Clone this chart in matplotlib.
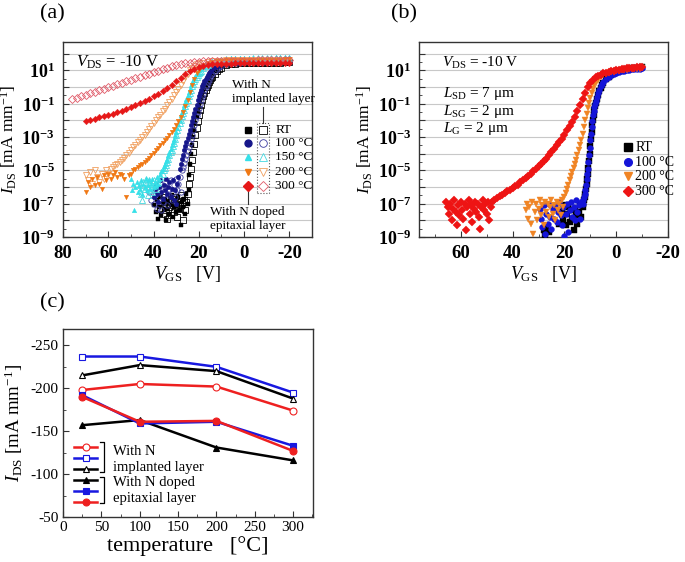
#...............................................................
#  transfer curves (a, b) and on-current vs temperature (c)
#...............................................................
import numpy as np
import matplotlib
matplotlib.use("Agg")
import matplotlib.pyplot as plt
from matplotlib.patches import Rectangle

plt.rcParams['font.family'] = 'serif'
plt.rcParams['font.serif'] = ['Liberation Serif', 'DejaVu Serif']
plt.rcParams['mathtext.fontset'] = 'custom'
plt.rcParams['mathtext.rm'] = 'Liberation Serif'
plt.rcParams['mathtext.it'] = 'Liberation Serif:italic'
plt.rcParams['mathtext.bf'] = 'Liberation Serif:bold'
plt.rcParams['axes.unicode_minus'] = False

#...............................................................
# (a) data: V_GS [V] and log10(I_DS); saturation tail shares TAIL_V
TAIL_V = [8, 6, 4, 2, 0, -2, -4, -6, -8, -10, -12, -14, -16, -18, -20]

rt_fill_v = [40, 39, 38.5, 38, 37.5, 37, 36.5, 36, 35.5, 35, 34.5, 34, 33.5, 33, 32.5, 32,
             31.5, 31, 30.5, 30, 29.5, 29, 28.5, 28, 27.5, 27, 26.5, 26, 25.5, 25, 24.5,
             24.5, 24, 23.5, 23, 22.5, 22, 21.5, 21, 20.5, 20, 19.5, 19, 18.5, 18, 17.5, 17,
             16.5, 16, 15.5, 15, 14.5, 14, 13, 12, 11, 10]
rt_fill_log = [-7.1, -7.5, -6.8, -7.9, -7.2, -6.6, -7.7, -7.0, -7.4, -6.7, -8.0, -7.3, -6.9, -7.6,
               -7.1, -6.5, -7.8, -7.2, -6.8, -7.5, -7.0, -6.6, -7.4, -8.3, -6.9, -7.2, -6.7, -7.6,
               -6.4, -7.0, -6.2,
               -5.3, -4.6, -4.0, -3.5, -3.0, -2.55, -2.15, -1.8, -1.45, -1.15, -0.9, -0.65, -0.45,
               -0.25, -0.05, 0.12, 0.28, 0.42, 0.55, 0.66, 0.76, 0.85, 0.99, 1.1, 1.18, 1.24]
rt_fill_tail = [1.33, 1.38, 1.40, 1.41, 1.42, 1.43, 1.43, 1.44, 1.44, 1.45, 1.45, 1.45, 1.46, 1.46, 1.46]

rt_open_v = [37, 36.5, 36, 35.5, 35, 34.5, 34, 33.5, 33, 32.5, 32, 31.5, 31, 30.5, 30, 29.5, 29,
             28.5, 28, 27.5, 27, 26.5, 26, 25.5, 25,
             24.5, 24, 23.5, 23, 22.5, 22, 21.5, 21, 20.5, 20, 19.5, 19, 18.5, 18, 17.5, 17,
             16.5, 16, 15.5, 15, 14.5, 14, 13, 12, 11, 10]
rt_open_log = [-7.3, -6.8, -7.6, -7.0, -6.6, -7.4, -7.9, -6.9, -7.2, -7.7, -6.7, -7.1, -7.5, -6.6,
               -7.0, -7.8, -6.9, -7.3, -6.5, -7.0, -8.0, -6.8, -7.4, -6.9, -6.4,
               -5.8, -5.4, -4.9, -4.4, -3.9, -3.4, -2.9, -2.45, -2.05, -1.7, -1.35, -1.05, -0.8,
               -0.55, -0.35, -0.15, 0.0, 0.15, 0.3, 0.42, 0.53, 0.63, 0.8, 0.95, 1.06, 1.15]
rt_open_tail = [1.3, 1.37, 1.4, 1.42, 1.43, 1.44, 1.45, 1.45, 1.46, 1.46, 1.47, 1.47, 1.47, 1.48, 1.48]

c100_fill_v = [40, 39.5, 39, 38.5, 38, 37.5, 37, 36.5, 36, 35.5, 35, 34.5, 34, 33.5, 33, 32.5, 32,
               31.5, 31, 30.5, 30, 29.5, 29,
               28.5, 28, 27.5, 27, 26.5, 26, 25.5, 25, 24.5, 24, 23.5, 23, 22.5, 22, 21.5, 21,
               20.5, 20, 19.5, 19, 18.5, 18, 17.5, 17, 16.5, 16, 15.5, 15, 14.5, 14, 13, 12, 11, 10]
c100_fill_log = [-6.6, -6.1, -5.8, -6.4, -6.9, -6.0, -5.6, -6.3, -6.7, -5.9, -6.2, -5.5, -6.4, -6.0,
                 -5.7, -6.6, -6.1, -5.6, -6.8, -6.2, -7.0, -5.8, -5.4,
                 -4.9, -4.6, -4.3, -4.05, -3.8, -3.55, -3.3, -3.05, -2.8, -2.55, -2.3, -2.05, -1.8,
                 -1.55, -1.3, -1.05, -0.8, -0.55, -0.35, -0.15, 0.05, 0.2, 0.35, 0.5, 0.62, 0.74,
                 0.84, 0.93, 1.0, 1.07, 1.18, 1.26, 1.32, 1.37]
c100_fill_tail = [1.44, 1.48, 1.5, 1.51, 1.52, 1.53, 1.53, 1.54, 1.54, 1.55, 1.55, 1.55, 1.56, 1.56, 1.56]

c100_open_v = [42, 41, 40, 39.5, 39, 38.5, 38, 37.5, 37, 36.5, 36, 35.5, 35, 34.5, 34, 33.5, 33,
               32.5, 32, 31.5, 31, 30.5, 30, 29.5, 29, 28.5, 28,
               27.5, 27, 26.5, 26, 25.5, 25, 24.5, 24, 23.5, 23, 22.5, 22, 21.5, 21, 20.5, 20,
               19.5, 19, 18.5, 18, 17.5, 17, 16.5, 16, 15.5, 15, 14.5, 14, 13, 12, 11, 10]
c100_open_log = [-6.3, -6.8, -7.0, -6.5, -6.0, -7.3, -6.6, -6.2, -5.8, -7.4, -6.9, -6.4, -6.0, -5.7,
                 -7.1, -6.5, -6.1, -5.6, -6.8, -6.3, -5.9, -6.6, -5.5, -6.2, -5.8, -5.4, -6.3,
                 -5.0, -4.8, -4.55, -4.3, -4.1, -3.85, -3.6, -3.35, -3.1, -2.85, -2.6, -2.3, -2.0,
                 -1.75, -1.5, -1.25, -1.0, -0.8, -0.6, -0.4, -0.2, 0.0, 0.15, 0.3, 0.45, 0.58, 0.7,
                 0.8, 0.98, 1.1, 1.2, 1.28]
c100_open_tail = [1.38, 1.43, 1.46, 1.47, 1.48, 1.49, 1.49, 1.5, 1.5, 1.51, 1.51, 1.51, 1.52, 1.52, 1.52]

c150_fill_v = [50, 49.5, 49, 48.5, 48, 47.5, 47, 46.5, 46, 45.5, 45, 44.5, 44, 43.5, 43, 42.5, 42,
               41.5, 41, 40.5, 40, 39.5, 39, 38.5, 38, 37.5,
               37, 36.5, 36, 35.5, 35, 34.5, 34, 33.5, 33, 32.5, 32, 31.5, 31, 30.5, 30, 29.5, 29,
               28.5, 28, 27.5, 27, 26.5, 26, 25.5, 25, 24.5, 24, 23.5, 23, 22.5, 22, 21.5, 21,
               20.5, 20, 19, 18, 17, 16, 15, 14, 12, 10]
c150_fill_log = [-5.5, -6.2, -5.8, -7.4, -6.0, -5.7, -6.3, -5.9, -6.1, -5.6, -6.4, -5.8, -6.0, -5.5,
                 -6.2, -5.9, -5.6, -6.1, -5.8, -5.5, -6.0, -5.7, -5.9, -5.4, -5.8, -5.5,
                 -5.2, -5.05, -4.9, -4.75, -4.6, -4.45, -4.3, -4.1, -3.9, -3.7, -3.5, -3.3, -3.1,
                 -2.9, -2.7, -2.45, -2.2, -1.95, -1.7, -1.5, -1.3, -1.1, -0.9, -0.7, -0.5, -0.3,
                 -0.1, 0.1, 0.25, 0.4, 0.55, 0.68, 0.8, 0.9, 1.0, 1.15, 1.27, 1.37, 1.45, 1.52,
                 1.57, 1.63, 1.67]
c150_fill_tail = [1.7, 1.72, 1.73, 1.74, 1.75, 1.75, 1.76, 1.76, 1.77, 1.77, 1.77, 1.78, 1.78, 1.78, 1.78]

c150_open_v = [46, 45.5, 45, 44.5, 44, 43.5, 43, 42.5, 42, 41.5, 41, 40.5, 40, 39.5, 39, 38.5, 38, 37,
               36, 35.5, 35, 34.5, 34, 33.5, 33, 32.5, 32, 31.5, 31, 30.5, 30, 29.5, 29, 28.5, 28,
               27.5, 27, 26.5, 26, 25.5, 25, 24.5, 24, 23.5, 23, 22.5, 22, 21.5, 21, 20.5, 20,
               19.5, 19, 18, 17, 16, 15, 14, 12, 10]
c150_open_log = [-5.9, -6.4, -6.8, -5.7, -6.1, -5.5, -6.0, -6.5, -5.6, -6.2, -5.8, -6.3, -5.6, -5.9,
                 -6.1, -5.5, -5.7, -5.4,
                 -5.2, -5.0, -4.85, -4.65, -4.5, -4.3, -4.1, -3.9, -3.75, -3.55, -3.35, -3.1, -2.85,
                 -2.6, -2.4, -2.15, -1.95, -1.75, -1.55, -1.35, -1.15, -0.95, -0.75, -0.55, -0.35,
                 -0.15, 0.05, 0.2, 0.35, 0.5, 0.62, 0.72, 0.82, 0.9, 0.98, 1.12, 1.25, 1.35, 1.43,
                 1.5, 1.58, 1.63]
c150_open_tail = [1.66, 1.68, 1.69, 1.7, 1.71, 1.71, 1.72, 1.72, 1.73, 1.73, 1.73, 1.74, 1.74, 1.74, 1.74]

c200_fill_v = [70, 69, 68, 67, 66, 65, 64, 63, 62, 61, 60, 59, 58, 57, 56, 55, 54, 53, 52, 51, 50,
               49, 48, 47, 46, 45, 44, 43, 42, 41, 40, 39, 38, 37, 36, 35, 34, 33, 32, 31, 30,
               29, 28, 27, 26, 25, 24, 23, 22, 21, 20, 19, 18, 16, 14, 12, 10]
c200_fill_log = [-6.3, -5.7, -6.0, -5.5, -5.9, -5.4, -5.8, -6.1, -5.3, -5.6, -5.2, -5.5, -5.3, -5.1,
                 -5.4, -5.2, -5.3, -5.5, -6.6, -5.3, -5.2,
                 -5.0, -4.9, -4.8, -4.7, -4.6, -4.5, -4.35, -4.25, -4.1, -3.95, -3.8, -3.65, -3.5,
                 -3.35, -3.2, -3.05, -2.9, -2.7, -2.5, -2.3, -2.05, -1.8, -1.5, -1.15, -0.75, -0.3,
                 0.1, 0.5, 0.85, 1.05, 1.2, 1.3, 1.42, 1.5, 1.55, 1.58]
c200_fill_tail = [1.6, 1.61, 1.62, 1.62, 1.63, 1.63, 1.64, 1.64, 1.64, 1.65, 1.65, 1.65, 1.65, 1.66, 1.66]

c200_open_v = [70, 69, 68, 67, 66, 65, 64, 63, 62, 61, 60, 59,
               58, 57, 56, 55, 54, 53, 52, 51, 50, 49, 48, 47, 46, 45, 44, 43, 42, 41, 40, 39,
               38, 37, 36, 35, 34, 33, 32, 31, 30, 29, 28, 27, 26, 25, 24, 23, 22, 21, 20,
               18, 16, 14, 12, 10]
c200_open_log = [-5.3, -5.6, -5.1, -5.8, -5.0, -5.4, -5.7, -5.2, -5.5, -5.0, -5.2, -4.9,
                 -4.8, -4.7, -4.6, -4.5, -4.4, -4.25, -4.1, -3.95, -3.8, -3.6, -3.45, -3.3, -3.15,
                 -3.0, -2.85, -2.7, -2.5, -2.35, -2.15, -2.0, -1.8, -1.65, -1.45, -1.3, -1.1, -0.9,
                 -0.7, -0.5, -0.3, -0.1, 0.1, 0.35, 0.6, 0.8, 1.0, 1.15, 1.28, 1.36, 1.42,
                 1.47, 1.52, 1.55, 1.57, 1.59]
c200_open_tail = [1.6, 1.61, 1.61, 1.62, 1.62, 1.62, 1.63, 1.63, 1.63, 1.63, 1.64, 1.64, 1.64, 1.64, 1.64]

c300_fill_v = [70, 68, 66, 64, 62, 60, 58, 56, 54, 52, 50, 48, 46, 44, 42, 40, 38, 36, 34, 32,
               30, 28, 26, 24, 22, 20, 18, 16, 14, 12, 10]
c300_fill_log = [-2.03, -1.96, -1.89, -1.82, -1.75, -1.67, -1.59, -1.50, -1.41, -1.31, -1.21, -1.10,
                 -0.98, -0.85, -0.71, -0.56, -0.40, -0.23, -0.05, 0.14, 0.34, 0.55, 0.76, 0.95,
                 1.10, 1.21, 1.29, 1.34, 1.37, 1.39, 1.40]
c300_fill_tail = [1.41, 1.41, 1.42, 1.42, 1.42, 1.43, 1.43, 1.43, 1.43, 1.44, 1.44, 1.44, 1.44, 1.44, 1.45]

c300_open_v = [76, 74, 72, 70, 68, 66, 64, 62, 60, 58, 56, 54, 52, 50, 48, 46, 44, 42, 40, 38,
               36, 34, 32, 30, 28, 26, 24, 22, 20, 18, 16, 14, 12, 10]
c300_open_log = [-0.74, -0.65, -0.55, -0.46, -0.37, -0.28, -0.18, -0.09, 0.0, 0.09, 0.18, 0.27,
                 0.36, 0.45, 0.54, 0.63, 0.72, 0.81, 0.9, 0.99, 1.08, 1.16, 1.24, 1.31, 1.37,
                 1.42, 1.46, 1.49, 1.52, 1.54, 1.55, 1.56, 1.57, 1.57]
c300_open_tail = [1.58, 1.58, 1.58, 1.59, 1.59, 1.59, 1.59, 1.6, 1.6, 1.6, 1.6, 1.6, 1.61, 1.61, 1.61]

a_labels = ['RT', '100 °C', '150 °C', '200 °C', '300 °C']

#...............................................................
# (b) data
b_rt_v = [28, 27.5, 27, 26, 22, 21, 20.5, 20, 19.5, 19, 18.5, 18, 17.5, 17, 16.5, 16, 15.5, 15,
          14.5, 14, 13.5,
          13, 12.75, 12.5, 12.25, 12, 11.75, 11.5, 11.25, 11, 10.75, 10.5, 10.25, 10, 9.75, 9.5,
          9.25, 9, 8.75, 8.5, 8.25, 8, 7.5, 7, 6.5, 6, 5.5, 5, 4, 3, 2, 1, 0, -1, -2, -3, -4,
          -5, -6, -7, -8, -9, -10]
b_rt_log = [-8.6, -8.9, -8.4, -8.7, -8.2, -7.4, -8.0, -7.1, -8.3, -7.6, -7.2, -8.1, -7.4, -7.9,
            -8.6, -7.3, -7.7, -8.2, -7.5, -7.0, -7.8,
            -7.2, -7.0, -6.8, -6.6, -6.4, -6.1, -5.8, -5.5, -5.2, -4.85, -4.45, -4.0, -3.55,
            -3.1, -2.7, -2.3, -1.95, -1.65, -1.4, -1.15, -0.95, -0.7, -0.45, -0.25, -0.05, 0.12,
            0.26, 0.47, 0.62, 0.74, 0.83, 0.9, 0.96, 1.0, 1.04, 1.07, 1.1, 1.12, 1.14, 1.16,
            1.17, 1.18]

b_100_v = [29.5, 29, 28.5, 28, 27.5, 27, 26.5, 26, 25.5, 25, 24.5, 24, 23.5, 23, 22.5, 22, 21.5,
           21, 20.5, 20, 19.5, 19, 18.5, 18, 17.5, 17, 16.5, 16, 15.5, 15, 14.5, 14, 13.5,
           13, 12.75, 12.5, 12.25, 12, 11.75, 11.5, 11.25, 11, 10.75, 10.5, 10.25, 10, 9.75, 9.5,
           9.25, 9, 8.75, 8.5, 8.25, 8, 7.5, 7, 6.5, 6, 5.5, 5, 4, 3, 2, 1, 0, -1, -2, -3, -4,
           -5, -6, -7, -8, -9, -10]
b_100_log = [-7.3, -7.9, -8.4, -7.1, -8.8, -7.6, -8.2, -7.0, -7.8, -8.5, -7.3, -7.9, -7.1, -8.1,
             -7.5, -6.9, -7.7, -8.3, -7.2, -8.95, -7.6, -7.0, -8.7, -7.4, -6.9, -7.8, -7.2, -8.0,
             -6.8, -7.5, -7.1, -7.9, -6.9,
             -7.0, -6.8, -6.6, -6.4, -6.2, -5.85, -5.5, -5.2, -4.9, -4.5, -4.1, -3.65, -3.2,
             -2.8, -2.4, -2.05, -1.7, -1.45, -1.2, -1.0, -0.85, -0.6, -0.35, -0.15, 0.05, 0.2,
             0.32, 0.5, 0.62, 0.72, 0.8, 0.87, 0.92, 0.96, 0.99, 1.02, 1.04, 1.06, 1.08, 1.1,
             1.11, 1.12]

b_200_v = [35, 34.5, 34, 33.5, 33, 32.5, 32, 31.5, 31, 30.5, 30, 29.5, 29, 28.5, 28, 27.5, 27,
           26.5, 26, 25.5, 25, 24.5, 24, 23.5, 23, 22.5, 22, 21.5, 21, 20.5,
           20, 19.5, 19, 18.5, 18, 17.5, 17, 16.5, 16, 15.5, 15, 14.5, 14, 13.5, 13, 12.5, 12,
           11.5, 11, 10.5, 10, 9.5, 9, 8.5, 8, 7, 6, 5, 4, 3, 2, 1, 0, -1, -2, -3, -4, -5, -6,
           -7, -8, -9, -10]
b_200_log = [-7.4, -7.0, -7.9, -7.2, -8.2, -6.9, -8.8, -7.5, -7.0, -8.0, -7.3, -6.8, -7.7, -7.1,
             -8.3, -6.9, -7.5, -7.0, -7.8, -7.2, -6.8, -7.6, -7.1, -8.0, -6.9, -7.4, -7.0, -7.7,
             -6.8, -7.2,
             -6.6, -6.35, -6.1, -5.85, -5.6, -5.35, -5.1, -4.85, -4.6, -4.35, -4.1, -3.8, -3.5,
             -3.15, -2.8, -2.4, -2.0, -1.6, -1.25, -0.95, -0.65, -0.35, -0.1, 0.1, 0.25, 0.45,
             0.6, 0.7, 0.78, 0.84, 0.89, 0.93, 0.96, 0.99, 1.01, 1.03, 1.05, 1.06, 1.08, 1.09,
             1.1, 1.11, 1.12]

b_300_v = [65.5, 65, 64.5, 64, 63.5, 63, 62.5, 62, 61.5, 61, 60.5, 60, 59.5, 59, 58.5, 58, 57.5,
           57, 56.5, 56, 55.5, 55, 54.5, 54, 53.5, 53, 52.5, 52, 51.5, 51, 50.5, 50, 49.5, 49,
           48.5, 48,
           47, 46, 45, 44, 43, 42, 41, 40, 39, 38, 37, 36, 35, 34, 33, 32, 31, 30, 29, 28, 27,
           26, 25, 24, 23, 22, 21, 20, 19, 18, 17, 16, 15, 14, 13, 12, 11, 10, 9, 8, 7, 6, 5,
           4, 3, 2, 1, 0, -1, -2, -3, -4, -5, -6, -7, -8, -9, -10]
b_300_log = [-6.9, -7.2, -7.6, -7.0, -8.0, -7.3, -6.8, -7.5, -8.3, -7.1, -7.7, -6.9, -7.4, -7.9,
             -7.0, -8.6, -7.2, -6.8, -7.6, -7.1, -8.1, -7.3, -6.9, -7.5, -7.0, -7.8, -8.5, -7.2,
             -6.8, -7.4, -7.0, -7.6, -6.9, -8.0, -7.2, -6.9,
             -6.75, -6.65, -6.55, -6.45, -6.35, -6.25, -6.15, -6.05, -5.95, -5.85, -5.7, -5.6,
             -5.45, -5.35, -5.2, -5.05, -4.9, -4.75, -4.6, -4.45, -4.3, -4.1, -3.9, -3.7, -3.5,
             -3.3, -3.1, -2.85, -2.6, -2.35, -2.1, -1.8, -1.45, -1.05, -0.7, -0.35, 0.0, 0.25,
             0.45, 0.58, 0.68, 0.75, 0.82, 0.87, 0.92, 0.96, 0.99, 1.02, 1.05, 1.08, 1.1, 1.12,
             1.14, 1.15, 1.17, 1.18, 1.19, 1.2]

b_labels = ['RT', '100 °C', '200 °C', '300 °C']

#...............................................................
# (c) data: I_DS [mA/mm] vs temperature
temps = [25, 100, 200, 300]
impl_red = [-198, -205, -202, -174]
impl_blue = [-237, -237, -225, -195]
impl_black = [-215, -227, -220, -188]
epi_black = [-157, -163, -131, -116]
epi_blue = [-192, -159, -161, -133]
epi_red = [-190, -161, -162, -127]

#...............................................................
fig = plt.figure(figsize=(6.85, 5.62), dpi=100)
ax_a = fig.add_axes([0.092, 0.578, 0.3635, 0.347])
ax_b = fig.add_axes([0.612, 0.578, 0.3635, 0.347])
ax_c = fig.add_axes([0.092, 0.080, 0.365, 0.3345])

ylab = r'$I_{\rm DS}$ [mA mm$^{-1}$]'
xlab = r'$V_{\rm GS}$   [V]'


def log_panel(ax, xlim, xt, xminor, ylabx):
    ax.set_yscale('log')
    ax.set_xlim(*xlim)
    ax.set_ylim(1e-9, 10 ** 2.7)
    yt = [10.0 ** k for k in range(-9, 3)]
    ylbl = [r'$\mathbf{10^{%d}}$' % k if k % 2 else '' for k in range(-9, 3)]
    ax.set_yticks(yt, ylbl, fontsize=13)
    ax.set_yticks([10.0 ** (k + 0.5) for k in range(-9, 2)], minor=True)
    ax.set_xticks(xt, [str(v) for v in xt], fontweight='bold', fontsize=13.5)
    ax.set_xticks(xminor, minor=True)
    ax.tick_params(which='both', direction='in', top=False, right=False, color='#333333')
    ax.tick_params(axis='y', which='major', length=4, pad=6)
    ax.tick_params(axis='y', which='minor', length=2)
    ax.tick_params(axis='x', which='major', length=4, pad=6)
    ax.tick_params(axis='x', which='minor', length=2)
    ax.grid(axis='y', which='major', color='#c8c8c8', lw=0.8)
    ax.set_axisbelow(True)
    for s in ax.spines.values():
        s.set_color('#333333')
        s.set_linewidth(1.0)
    ax.set_ylabel(ylab, fontsize=12.5)
    ax.yaxis.set_label_coords(ylabx, 0.5)
    ax.set_xlabel(xlab, fontsize=13)
    ax.xaxis.set_label_coords(0.5, -0.14)


def pts(v, lg, tail=None):
    v = list(v)
    lg = list(lg)
    if tail is not None:
        v = v + TAIL_V
        lg = lg + list(tail)
    return np.array(v), 10.0 ** np.array(lg)


#...............................................................
# panel (a)
log_panel(ax_a, (80, -30), [80, 60, 40, 20, 0, -20], [70, 50, 30, 10, -10], -0.175)

cols_a = ['#000000', '#16168a', '#35e0e8', '#f07814', '#e61818']
open_cols_a = ['#000000', '#3a3aa0', '#45d8e0', '#f0a060', '#e05a68']
mk_fill = ['s', 'o', '^', 'v', 'D']
mk_open = ['s', 'o', '^', 'v', 'D']
a_data = [
    ((rt_fill_v, rt_fill_log, rt_fill_tail), (rt_open_v, rt_open_log, rt_open_tail)),
    ((c100_fill_v, c100_fill_log, c100_fill_tail), (c100_open_v, c100_open_log, c100_open_tail)),
    ((c150_fill_v, c150_fill_log, c150_fill_tail), (c150_open_v, c150_open_log, c150_open_tail)),
    ((c200_fill_v, c200_fill_log, c200_fill_tail), (c200_open_v, c200_open_log, c200_open_tail)),
    ((c300_fill_v, c300_fill_log, c300_fill_tail), (c300_open_v, c300_open_log, c300_open_tail)),
]
for i, (fd, od) in enumerate(a_data):
    x, y = pts(*od)
    ax_a.plot(x, y, ls='none', marker=mk_open[i], ms=3.8, mfc='none',
              mec=open_cols_a[i], mew=0.6, zorder=3)
    x, y = pts(*fd)
    ax_a.plot(x, y, ls='none', marker=mk_fill[i], ms=3.3, mfc=cols_a[i],
              mec=cols_a[i], mew=0.3, zorder=3)

ax_a.text(0.052, 0.897, r'$V_{\rm DS}$ = -10 V', transform=ax_a.transAxes,
          fontsize=12, va='center', ha='left')

# legend (two marker columns)
rows_a = [0.549, 0.482, 0.413, 0.336, 0.262]
for i, lab in enumerate(a_labels):
    ax_a.plot([0.743], [rows_a[i]], transform=ax_a.transAxes, marker=mk_fill[i], ms=5,
              mfc=cols_a[i], mec=cols_a[i], ls='none', clip_on=False, zorder=5)
    ax_a.plot([0.803], [rows_a[i]], transform=ax_a.transAxes, marker=mk_open[i], ms=5.5,
              mfc='white', mec=open_cols_a[i], mew=0.6, ls='none', clip_on=False, zorder=5)
    ax_a.text(0.853, rows_a[i], lab, transform=ax_a.transAxes, fontsize=9.5,
              va='center', ha='left', zorder=5)
ax_a.add_patch(Rectangle((0.779, 0.225), 0.048, 0.362, transform=ax_a.transAxes,
                         fill=False, ls=':', lw=0.8, ec='#555555', zorder=5))
ax_a.plot([0.803, 0.803], [0.587, 0.668], transform=ax_a.transAxes, color='#333333', lw=0.8)
ax_a.plot([0.743, 0.743], [0.235, 0.169], transform=ax_a.transAxes, color='#333333', lw=0.8)
ax_a.text(0.677, 0.779, 'With N', transform=ax_a.transAxes, fontsize=9.5, va='center')
ax_a.text(0.677, 0.706, 'implanted layer', transform=ax_a.transAxes, fontsize=9.5, va='center')
ax_a.text(0.590, 0.130, 'With N doped', transform=ax_a.transAxes, fontsize=9.5, va='center')
ax_a.text(0.590, 0.058, 'epitaxial layer', transform=ax_a.transAxes, fontsize=9.5, va='center')

#...............................................................
# panel (b)
log_panel(ax_b, (76, -20), [60, 40, 20, 0, -20], [70, 50, 30, 10, -10], -0.178)

cols_b = ['#000000', '#1414d8', '#f08424', '#ee1414']
mk_b = ['s', 'o', 'v', 'D']
b_data = [(b_rt_v, b_rt_log), (b_100_v, b_100_log), (b_200_v, b_200_log), (b_300_v, b_300_log)]
for i, (v, lg) in enumerate(b_data):
    x, y = pts(v, lg)
    ax_b.plot(x, y, ls='none', marker=mk_b[i], ms=4.2, mfc=cols_b[i], mec=cols_b[i],
              mew=0.3, zorder=3)

ax_b.text(0.092, 0.892, r'$V_{\rm DS}$ = -10 V', transform=ax_b.transAxes, fontsize=11,
          va='center')
ax_b.text(0.096, 0.738, r'$L_{\rm SD}$ = 7 μm', transform=ax_b.transAxes, fontsize=11,
          va='center')
ax_b.text(0.096, 0.646, r'$L_{\rm SG}$ = 2 μm', transform=ax_b.transAxes, fontsize=11,
          va='center')
ax_b.text(0.096, 0.559, r'$L_{\rm G}$ = 2 μm', transform=ax_b.transAxes, fontsize=11,
          va='center')

rows_b = [0.462, 0.385, 0.313, 0.236]
for i, lab in enumerate(b_labels):
    ax_b.plot([0.839], [rows_b[i]], transform=ax_b.transAxes, marker=mk_b[i], ms=5.5,
              mfc=cols_b[i], mec=cols_b[i], ls='none', clip_on=False, zorder=5)
    ax_b.text(0.868, rows_b[i], lab, transform=ax_b.transAxes, fontsize=10,
              va='center', ha='left', zorder=5)

#...............................................................
# panel (c)
c_series = [
    (impl_red, '#ee2020', 'o', False),
    (impl_blue, '#1818e0', 's', False),
    (impl_black, '#000000', '^', False),
    (epi_black, '#000000', '^', True),
    (epi_blue, '#1818e0', 's', True),
    (epi_red, '#ee2020', 'o', True),
]
for vals, col, mk, filled in c_series:
    ax_c.plot(temps, vals, color=col, lw=1.8, marker=mk, ms=5,
              mfc=col if filled else 'white', mec=col, mew=0.8, zorder=3)

ax_c.set_xlim(0, 326)
ax_c.set_ylim(-50, -269)
ax_c.set_xticks([0, 50, 100, 150, 200, 250, 300])
ax_c.set_xticks([25, 75, 125, 175, 225, 275, 325], minor=True)
ax_c.set_yticks([-50, -100, -150, -200, -250])
ax_c.set_yticks([-75, -125, -175, -225], minor=True)
ax_c.tick_params(which='both', direction='in', top=False, right=False, labelsize=11,
                 color='#333333')
ax_c.tick_params(which='major', length=4, pad=3)
ax_c.tick_params(which='minor', length=2)
for s in ax_c.spines.values():
    s.set_color('#333333')
    s.set_linewidth(1.0)
ax_c.set_ylabel(ylab, fontsize=13.5)
ax_c.yaxis.set_label_coords(-0.152, 0.5)
ax_c.set_xlabel('temperature   [°C]', fontsize=16)
ax_c.xaxis.set_label_coords(0.5, -0.1)

rows_c = [0.372, 0.314, 0.255, 0.197, 0.138, 0.080]
for (vals, col, mk, filled), ry in zip(c_series, rows_c):
    ax_c.plot([0.044, 0.136], [ry, ry], transform=ax_c.transAxes, color=col, lw=1.8,
              clip_on=False, zorder=5)
    ax_c.plot([0.09], [ry], transform=ax_c.transAxes, marker=mk, ms=5, color=col,
              mfc=col if filled else 'white', mec=col, mew=0.8, clip_on=False, zorder=5)
for top, bot in [(0.399, 0.239), (0.213, 0.074)]:
    ax_c.plot([0.148, 0.162, 0.162, 0.148], [top, top, bot, bot], transform=ax_c.transAxes,
              color='black', lw=0.9)
ax_c.text(0.2, 0.346, 'With N', transform=ax_c.transAxes, fontsize=10.5, va='center')
ax_c.text(0.2, 0.266, 'implanted layer', transform=ax_c.transAxes, fontsize=10.5, va='center')
ax_c.text(0.2, 0.186, 'With N doped', transform=ax_c.transAxes, fontsize=10.5, va='center')
ax_c.text(0.2, 0.101, 'epitaxial layer', transform=ax_c.transAxes, fontsize=10.5, va='center')

#...............................................................
# panel letters
fig.text(0.077, 0.975, '(a)', fontsize=16, ha='center', va='center')
fig.text(0.590, 0.975, '(b)', fontsize=16, ha='center', va='center')
fig.text(0.077, 0.461, '(c)', fontsize=16, ha='center', va='center')

fig.savefig("out.png", dpi=100)
